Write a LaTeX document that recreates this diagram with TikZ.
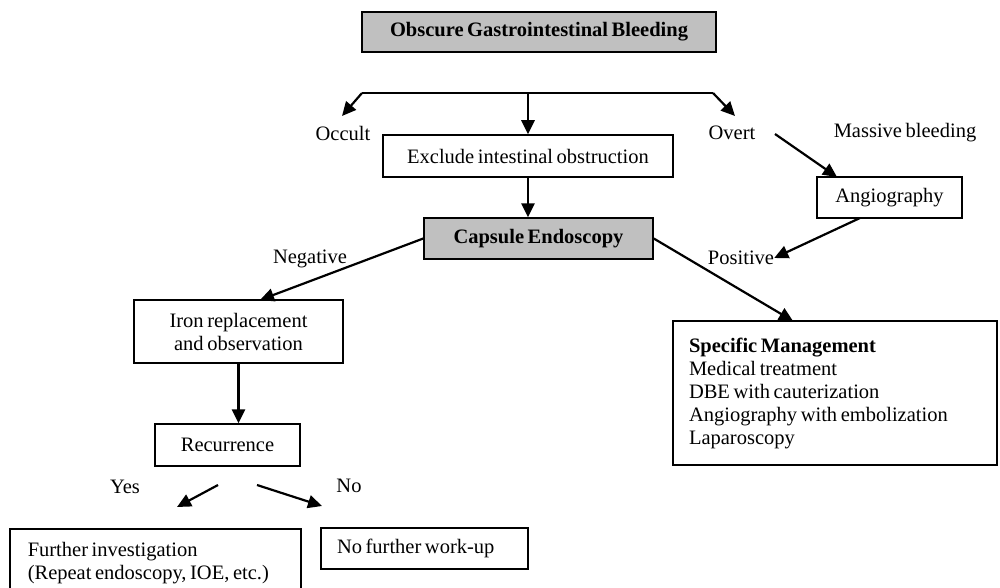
\documentclass[tikz,border=0pt]{standalone}
\usepackage{fontspec}
\setmainfont[WordSpace=0.7]{Liberation Serif}
\usetikzlibrary{arrows.meta}
\definecolor{boxgray}{HTML}{C0C0C0}
\begin{document}
\begin{tikzpicture}[x=1pt,y=-1pt,
  every node/.style={font=\fontsize{20.5}{23}\selectfont},
  box/.style={draw=black,line width=1.5pt,inner sep=0pt},
  graybox/.style={box,fill=boxgray},
  lbl/.style={inner sep=0pt},
  arr/.style={line width=2.8pt,-{Triangle[length=14pt,width=13pt]}},
  thinarr/.style={line width=2.2pt,-{Triangle[length=14pt,width=13pt]}}]
\useasboundingbox (0,0) rectangle (1000,588);
\clip (0,0) rectangle (1000,588);
% boxes
\node[graybox,minimum width=354pt,minimum height=40pt] (top) at (539,32) {\bfseries Obscure Gastrointestinal Bleeding};
\node[box,minimum width=290pt,minimum height=42pt] (exc) at (528,156) {Exclude intestinal obstruction};
\node[graybox,minimum width=229pt,minimum height=41pt] (cap) at (538.5,238.5) {\bfseries Capsule Endoscopy};
\node[box,minimum width=145pt,minimum height=41pt] (ang) at (889.5,197.5) {Angiography};
\node[box,minimum width=209pt,minimum height=63pt,align=center] (iron) at (238.5,331.5) {Iron replacement\\and observation};
\node[box,minimum width=145pt,minimum height=42pt] (rec) at (227.5,445) {Recurrence};
\node[box,minimum height=144pt,text width=292pt,inner xsep=16pt,align=flush left] (spec) at (835,393)
  {\textbf{Specific Management}\\Medical treatment\\DBE with cauterization\\Angiography with embolization\\Laparoscopy};
\node[box,anchor=north west,text width=255pt,inner xsep=18pt,inner ysep=14pt,align=flush left] (fur) at (9,528)
  {Further investigation\\(Repeat endoscopy, IOE, etc.)};
\node[box,minimum height=41pt,text width=175pt,inner xsep=16pt,align=flush left] (nof) at (424.5,548.5) {No further work-up};
% labels
\node[lbl] (occ) at (343,133) {Occult};
\node[lbl] (ovt) at (732,133) {Overt};
\node[lbl] (mas) at (905,133) {Massive bleeding};
\node[lbl] (neg) at (310,259) {Negative};
\node[lbl] (pos) at (741,258) {Positive};
\node[lbl] (yes) at (125,487) {Yes};
\node[lbl] (no) at (349,486) {No};
% coordinates
\coordinate (bl) at (362,93);
\coordinate (bm) at (528,93);
\coordinate (br) at (713,93);
\coordinate (occtip) at (342,116);
\coordinate (ovttip) at (735,116);
\coordinate (ovtstart) at (775,134);
\coordinate (angtop) at (837,177);
\coordinate (angbot) at (860,218);
\coordinate (irontop) at (260,300);
\coordinate (spectop) at (793,321);
\coordinate (yesstart) at (218,485);
\coordinate (yestip) at (177,507);
\coordinate (nostart) at (257,485);
\coordinate (notip) at (322,506);
% connectors
\draw[line width=1.5pt] (bl) -- (br);
\draw[thinarr] (bl) -- (occtip);
\draw[thinarr] (br) -- (ovttip);
\draw[arr] (bm) -- (exc.north);
\draw[arr] (exc.south) -- (exc.south |- cap.north);
\draw[thinarr] (ovtstart) -- (angtop);
\draw[thinarr] (angbot) -- (pos.east);
\draw[thinarr] (cap.west) -- (irontop);
\draw[thinarr] (cap.east) -- (spectop);
\draw[arr] (iron.south) -- (iron.south |- rec.north);
\draw[thinarr] (yesstart) -- (yestip);
\draw[thinarr] (nostart) -- (notip);
\end{tikzpicture}
\end{document}
